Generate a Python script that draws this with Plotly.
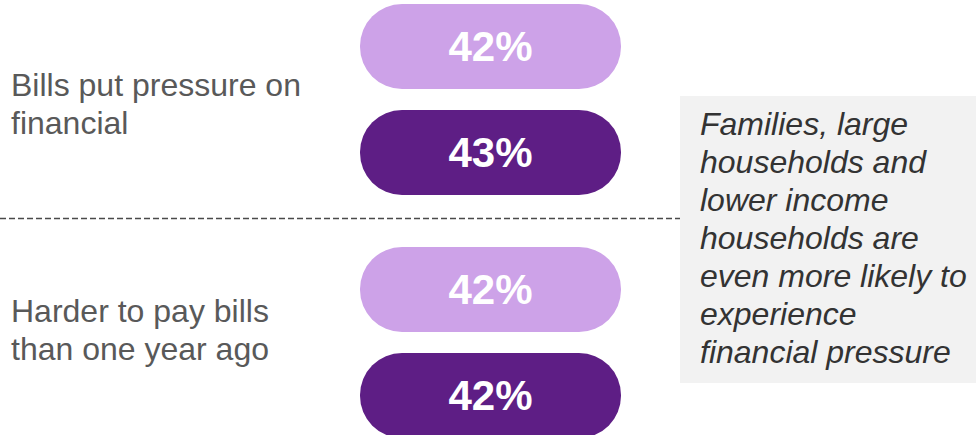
import plotly.graph_objects as go

# ---- data ----
categories = ["Bills put pressure on financial", "Harder to pay bills than one year ago"]
category_lines = [["Bills put pressure on", "financial"], ["Harder to pay bills", "than one year ago"]]
series_names = ["Series A", "Series B"]
values_light = [42, 42]
values_dark = [43, 42]
note_lines = [
    "Families, large",
    "households and",
    "lower income",
    "households are",
    "even more likely to",
    "experience",
    "financial pressure",
]

# ---- style / layout constants ----
W, H = 976, 435
LIGHT = "#CDA2E8"
DARK = "#5E1E85"
PILL_X0, PILL_LEN, PILL_H = 360, 261, 85
light_centers = [46.5, 289.5]
dark_centers = [152.5, 395.5]
FONT = "Liberation Sans, Arial, sans-serif"

fig = go.Figure()
for name, vals, centers, col in [
    (series_names[0], values_light, light_centers, LIGHT),
    (series_names[1], values_dark, dark_centers, DARK),
]:
    fig.add_trace(go.Bar(
        name=name,
        orientation="h",
        y=centers,
        x=[PILL_LEN] * len(vals),
        base=[PILL_X0] * len(vals),
        width=PILL_H,
        marker=dict(color=col, line=dict(width=0), cornerradius=PILL_H // 2),
        text=[f"{v}%" for v in vals],
        textposition="inside",
        insidetextanchor="middle",
        textangle=0,
        constraintext="none",
        textfont=dict(family=FONT, size=42, color="white", weight="bold"),
        hoverinfo="skip",
        showlegend=False,
    ))

# dashed separator
fig.add_shape(type="line", x0=0, x1=681, y0=218.5, y1=218.5,
              line=dict(color="#4a4a4a", width=1.5, dash="6px,3px"), layer="below")
# grey note box
fig.add_shape(type="rect", x0=680, x1=W, y0=96, y1=383,
              fillcolor="#F2F2F2", line=dict(width=0), layer="below")

LINE = 38
# category labels
label_baselines = [96, 322]
for lines, b0 in zip(category_lines, label_baselines):
    for i, t in enumerate(lines):
        fig.add_annotation(x=9, y=b0 + i * LINE - 11, text=t, showarrow=False,
                           xanchor="left", yanchor="middle", xref="x", yref="y",
                           font=dict(family=FONT, size=32, color="#595959"))
# note text
for i, t in enumerate(note_lines):
    fig.add_annotation(x=698, y=135 + i * LINE - 11, text=f"<i>{t}</i>", showarrow=False,
                       xanchor="left", yanchor="middle", xref="x", yref="y",
                       font=dict(family=FONT, size=32, color="#333333"))

fig.update_layout(
    width=W, height=H,
    margin=dict(l=0, r=0, t=0, b=0),
    paper_bgcolor="white", plot_bgcolor="white",
    xaxis=dict(range=[0, W], visible=False, fixedrange=True),
    yaxis=dict(range=[H, 0], visible=False, fixedrange=True),
    barmode="overlay",
    showlegend=False,
)
fig.write_html("out.html", config={"displayModeBar": False},
               post_script="document.body.style.margin='0';document.body.style.overflow='hidden';")
